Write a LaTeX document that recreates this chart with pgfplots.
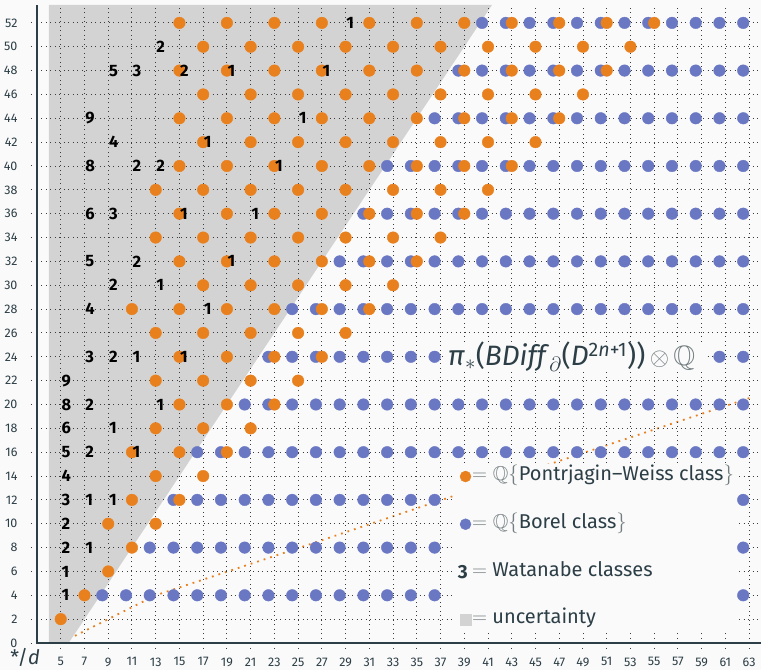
\documentclass[border=0pt]{standalone}
\usepackage{pgfplots}
\pgfplotsset{compat=1.18}
\usepackage{amssymb}
\usepackage{fontspec}
\setmainfont{Fira Sans}
\usetikzlibrary{backgrounds}
\definecolor{orangeC}{RGB}{233,128,30}
\definecolor{blueC}{RGB}{106,120,196}
\definecolor{grayC}{RGB}{211,211,211}
\definecolor{bgC}{RGB}{250,250,250}
\definecolor{textC}{RGB}{44,62,70}
\definecolor{eqC}{RGB}{115,125,128}
\definecolor{gridC}{RGB}{60,60,60}
\begin{document}
\begin{tikzpicture}
\begin{axis}[
  name=ax, scale only axis, width=724pt, height=638pt,
  xmin=3, xmax=64, ymin=0, ymax=53.5,
  axis x line=bottom, axis y line=left,
  axis line style={-, line width=1.3pt, color=textC},
  axis on top,
  xtick={5,7,...,63}, ytick={0,2,...,52},
  grid=major,
  major grid style={line width=0.9pt, dash pattern=on 0.9pt off 3.6pt, color=gridC},
  tick align=outside, major tick length=6pt,
  major tick style={line width=1pt, dash pattern=on 1pt off 4pt, color=gridC},
  tick label style={font=\fontsize{12.5}{13}\selectfont, text=textC},
  /pgf/number format/assume math mode=true,
  xticklabel style={yshift=-5pt}, yticklabel style={xshift=-10pt},
  xlabel={*/\textit{d}},
  xlabel style={at={(rel axis cs:0,0)}, anchor=north east, xshift=3pt, yshift=-5.5pt, font=\fontsize{20}{20}\selectfont, text=textC, inner sep=0pt},
  legend style={at={(0.577,0.0168)}, anchor=south west, fill=bgC, draw=none,
    inner xsep=3pt, inner ysep=3.7pt, row sep=30.2pt, column sep=0.5pt,
    font=\fontsize{20}{20}\selectfont, text=textC,
    nodes={inner sep=0pt, text height=13pt, text depth=4.5pt}},
  legend cell align=left,
]
% uncertainty region
\addplot[fill=grayC, draw=none, forget plot] coordinates {(4,0) (5.667,0) (41.333,53.5) (4,53.5)} -- cycle;
% dotted orange curve
\addplot[orangeC, line width=1.8pt, dash pattern=on 1.8pt off 5pt, forget plot] coordinates {(6.2,0.6) (13,4) (25,7.95) (38,12.3) (63.2,20.6)};
% Borel classes
\addplot[only marks, mark=*, mark size=5.8pt, color=blueC, mark options={draw=none, fill=blueC}, forget plot] coordinates {
(8.5,4)(10.5,4)(12.5,4)(14.5,4)(16.5,4)(18.5,4)(20.5,4)(22.5,4)(24.5,4)(26.5,4)(28.5,4)(30.5,4)(32.5,4)(34.5,4)(36.5,4)(62.5,4)
(12.5,8)(14.5,8)(16.5,8)(18.5,8)(20.5,8)(22.5,8)(24.5,8)(26.5,8)(28.5,8)(30.5,8)(32.5,8)(34.5,8)(36.5,8)(62.5,8)
(14.5,12)(16.5,12)(18.5,12)(20.5,12)(22.5,12)(24.5,12)(26.5,12)(28.5,12)(30.5,12)(32.5,12)(34.5,12)(36.5,12)(62.5,12)
(16.5,16)(18.5,16)(20.5,16)(22.5,16)(24.5,16)(26.5,16)(28.5,16)(30.5,16)(32.5,16)(34.5,16)(36.5,16)(38.5,16)(40.5,16)(42.5,16)(44.5,16)(46.5,16)(48.5,16)(50.5,16)(52.5,16)(54.5,16)(56.5,16)(58.5,16)(60.5,16)(62.5,16)
(20.5,20)(22.5,20)(24.5,20)(26.5,20)(28.5,20)(30.5,20)(32.5,20)(34.5,20)(36.5,20)(38.5,20)(40.5,20)(42.5,20)(44.5,20)(46.5,20)(48.5,20)(50.5,20)(52.5,20)(54.5,20)(56.5,20)(58.5,20)(60.5,20)(62.5,20)
(22.5,24)(24.5,24)(26.5,24)(28.5,24)(30.5,24)(32.5,24)(34.5,24)(36.5,24)
(24.5,28)(26.5,28)(28.5,28)(30.5,28)(32.5,28)(34.5,28)(36.5,28)(38.5,28)(40.5,28)(42.5,28)(44.5,28)(46.5,28)(48.5,28)(50.5,28)(52.5,28)(54.5,28)(56.5,28)(58.5,28)(60.5,28)(62.5,28)
(28.5,32)(30.5,32)(32.5,32)(34.5,32)(36.5,32)(38.5,32)(40.5,32)(42.5,32)(44.5,32)(46.5,32)(48.5,32)(50.5,32)(52.5,32)(54.5,32)(56.5,32)(58.5,32)(60.5,32)(62.5,32)
(30.5,36)(32.5,36)(34.5,36)(36.5,36)(38.5,36)(40.5,36)(42.5,36)(44.5,36)(46.5,36)(48.5,36)(50.5,36)(52.5,36)(54.5,36)(56.5,36)(58.5,36)(60.5,36)(62.5,36)
(32.5,40)(34.5,40)(36.5,40)(38.5,40)(40.5,40)(42.5,40)(44.5,40)(46.5,40)(48.5,40)(50.5,40)(52.5,40)(54.5,40)(56.5,40)(58.5,40)(60.5,40)(62.5,40)
(36.5,44)(38.5,44)(40.5,44)(42.5,44)(44.5,44)(46.5,44)(48.5,44)(50.5,44)(52.5,44)(54.5,44)(56.5,44)(58.5,44)(60.5,44)(62.5,44)
(38.5,48)(40.5,48)(42.5,48)(44.5,48)(46.5,48)(48.5,48)(50.5,48)(52.5,48)(54.5,48)(56.5,48)(58.5,48)(60.5,48)(62.5,48)
(40.5,52)(42.5,52)(44.5,52)(46.5,52)(48.5,52)(50.5,52)(52.5,52)(54.5,52)(56.5,52)(58.5,52)(60.5,52)(62.5,52)
};
% Borel classes right of the heading
\addplot[only marks, mark=*, mark size=5.8pt, color=blueC, mark options={draw=none, fill=blueC}, forget plot] table {
x y
60.5 24
62.5 24
};
% Pontrjagin-Weiss classes
\addplot[only marks, mark=*, mark size=5.8pt, color=orangeC, mark options={draw=none, fill=orangeC}, forget plot] coordinates {
(5,2)(7,4)(9,6)(11,8)(9,10)(13,10)(11,12)(15,12)(13,14)(17,14)
(11,16)(15,16)(19,16)(13,18)(17,18)(21,18)(15,20)(19,20)(23,20)
(13,22)(17,22)(21,22)(25,22)(15,24)(19,24)(23,24)(27,24)
(13,26)(17,26)(21,26)(25,26)(29,26)
(11,28)(15,28)(19,28)(23,28)(27,28)(31,28)
(17,30)(21,30)(25,30)(29,30)(33,30)
(15,32)(19,32)(23,32)(27,32)(31,32)(35,32)
(13,34)(17,34)(21,34)(25,34)(29,34)(33,34)(37,34)
(15,36)(19,36)(23,36)(27,36)(31,36)(35,36)(39,36)
(13,38)(17,38)(21,38)(25,38)(29,38)(33,38)(37,38)(41,38)
(15,40)(19,40)(23,40)(27,40)(31,40)(35,40)(39,40)(43,40)
(17,42)(21,42)(25,42)(29,42)(33,42)(37,42)(41,42)(45,42)
(15,44)(19,44)(23,44)(27,44)(31,44)(35,44)(39,44)(43,44)(47,44)
(17,46)(21,46)(25,46)(29,46)(33,46)(37,46)(41,46)(45,46)(49,46)
(15,48)(19,48)(23,48)(27,48)(31,48)(35,48)(39,48)(43,48)(47,48)(51,48)
(17,50)(21,50)(25,50)(29,50)(33,50)(37,50)(41,50)(45,50)(49,50)(53,50)
(15,52)(19,52)(23,52)(27,52)(31,52)(35,52)(39,52)(43,52)(47,52)(51,52)(55,52)
};
% Watanabe classes
\addplot[draw=none, forget plot, nodes near coords, point meta=explicit symbolic,
  nodes near coords style={anchor=west, inner sep=0.6pt, font=\fontsize{16.5}{16.5}\bfseries\selectfont, text=black}]
  table[meta=l] {
x y l
29 52 1
13 50 2
9 48 5
11 48 3
15 48 2
19 48 1
27 48 1
7 44 9
25 44 1
9 42 4
17 42 1
7 40 8
11 40 2
13 40 2
23 40 1
7 36 6
9 36 3
15 36 1
21 36 1
7 32 5
11 32 2
19 32 1
9 30 2
13 30 1
7 28 4
17 28 1
7 24 3
9 24 2
11 24 1
15 24 1
5 22 9
5 20 8
7 20 2
13 20 1
5 18 6
9 18 1
5 16 5
7 16 2
11 16 1
5 14 4
5 12 3
7 12 1
9 12 1
5 10 2
5 8 2
7 8 1
5 6 1
5 4 1
};
\addlegendimage{legend image code/.code={\fill[orangeC] (6.5pt,0) circle (5.5pt);}}
\addlegendentry{\textcolor{eqC}{$=\mathbb{Q}\{$}Pontrjagin–Weiss class\textcolor{eqC}{$\}$}}
\addlegendimage{legend image code/.code={\fill[blueC] (6.5pt,0) circle (5.5pt);}}
\addlegendentry{\textcolor{eqC}{$=\mathbb{Q}\{$}Borel class\textcolor{eqC}{$\}$}}
\addlegendimage{legend image code/.code={\node[anchor=base east, inner sep=0pt, text height=, text depth=, font=\fontsize{19}{19}\bfseries\selectfont, text=textC] at (9pt,-6.3pt) {3};}}
\addlegendentry{\textcolor{eqC}{$=$}\ Watanabe classes}
\addlegendimage{legend image code/.code={\fill[grayC] (1.5pt,-5.5pt) rectangle (12.5pt,5.5pt);}}
\addlegendentry{\textcolor{eqC}{$=$}\ uncertainty}
\end{axis}
\fill[bgC] ([xshift=409pt,yshift=272pt]ax.south west) rectangle ([xshift=670pt,yshift=300pt]ax.south west);
\node[inner sep=0pt, anchor=west, font=\fontsize{28}{28}\selectfont, text=textC] at ([xshift=411pt,yshift=286pt]ax.south west)
  {\textit{π}$_*$(\textit{BDiff}$_\partial$(\textit{D}\textsuperscript{2\textit{n}+1}))\,\textcolor{eqC}{$\otimes\,\mathbb{Q}$}};
\pgfresetboundingbox
\path[use as bounding box] ([xshift=-37pt,yshift=-27pt]ax.south west) rectangle ([xshift=724pt,yshift=643pt]ax.south west);
\begin{pgfonlayer}{background}
\fill[bgC] ([xshift=-37pt,yshift=-27pt]ax.south west) rectangle ([xshift=724pt,yshift=643pt]ax.south west);
\end{pgfonlayer}
\end{tikzpicture}
\end{document}
